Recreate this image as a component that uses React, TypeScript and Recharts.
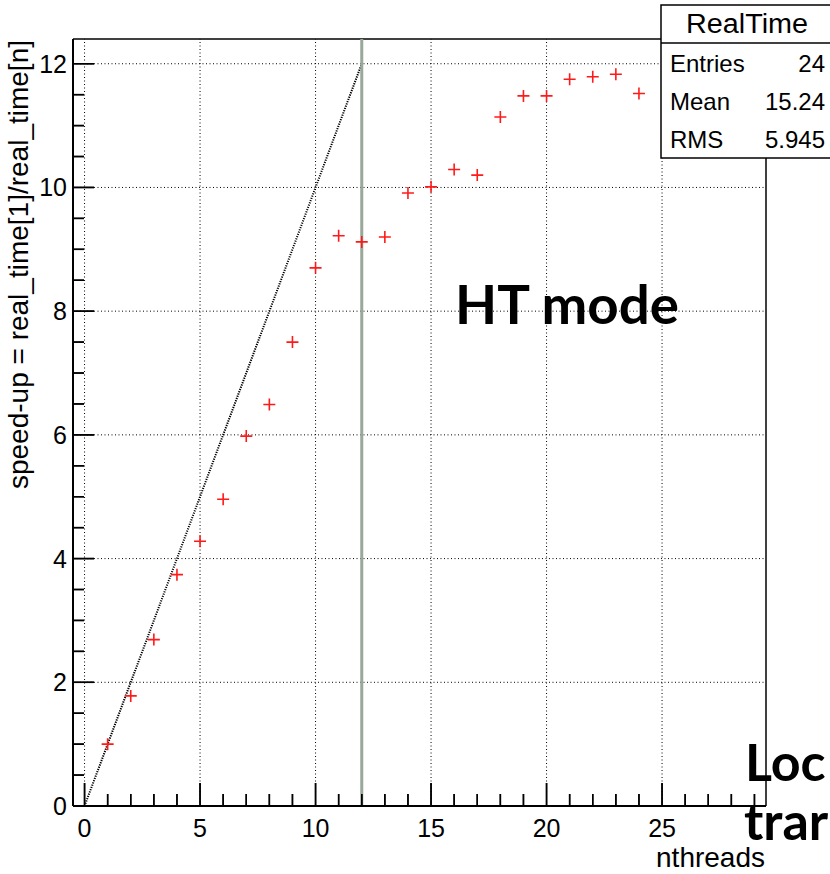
import React from 'react';
import { ComposedChart, XAxis, YAxis, Scatter, ReferenceLine } from 'recharts';

const threads = [1, 2, 3, 4, 5, 6, 7, 8, 9, 10, 11, 12, 13, 14, 15, 16, 17, 18, 19, 20, 21, 22, 23, 24];
const speedup = [1.0, 1.78, 2.69, 3.74, 4.28, 4.96, 5.98, 6.49, 7.5, 8.7, 9.22, 9.12, 9.2, 9.91, 10.01, 10.29, 10.2, 11.14, 11.48, 11.48, 11.75, 11.79, 11.83, 11.52];

const xTicks = [0, 1, 2, 3, 4, 5, 6, 7, 8, 9, 10, 11, 12, 13, 14, 15, 16, 17, 18, 19, 20, 21, 22, 23, 24, 25, 26, 27, 28, 29];
const xMajor = [0, 5, 10, 15, 20, 25];
const yTicks = [0, 0.5, 1, 1.5, 2, 2.5, 3, 3.5, 4, 4.5, 5, 5.5, 6, 6.5, 7, 7.5, 8, 8.5, 9, 9.5, 10, 10.5, 11, 11.5, 12];
const yMajor = [0, 2, 4, 6, 8, 10, 12];
const yGrid = [2, 4, 6, 8, 10, 12];

const xDomain: [number, number] = [-0.5, 29.5];
const yDomain: [number, number] = [0, 12.4];

const idealLine = [{ x: 0, y: 0 }, { x: 12, y: 12 }];
const htLimit = 12;

const statsTitle = 'RealTime';
const statsLabels = ['Entries', 'Mean', 'RMS'];
const statsValues = ['24', '15.24', '5.945'];

const data = threads.map((t, i) => ({ x: t, y: speedup[i] }));
const xTickMarks = xTicks.map((v) => ({ x: v, y: yDomain[0], major: xMajor.includes(v) }));
const yTickMarks = yTicks.map((v) => ({ x: xDomain[0], y: v, major: yMajor.includes(v) }));

const FONT = '"Liberation Sans", Arial, Helvetica, sans-serif';

const renderXTick = (props: any) => {
  const x = Number(props.x);
  const y = Number(props.y);
  const v = Number(props.payload?.value);
  const major = xMajor.includes(v);
  const len = major ? 23 : 12;
  return (
    <g>
      <line x1={x} y1={y} x2={x} y2={y - len} stroke="#000" strokeWidth={1.5} />
      {major ? (
        <text x={x} y={y + 31} textAnchor="middle" fontFamily={FONT} fontSize={25} fill="#000" stroke="none">
          {v}
        </text>
      ) : null}
    </g>
  );
};

const renderYTick = (props: any) => {
  const x = Number(props.x);
  const y = Number(props.y);
  const v = Number(props.payload?.value);
  const major = yMajor.includes(v);
  const len = major ? 21 : 11;
  return (
    <g>
      <line x1={x} y1={y} x2={x + len} y2={y} stroke="#000" strokeWidth={1.5} />
      {major ? (
        <text x={x - 6} y={y + 9} textAnchor="end" fontFamily={FONT} fontSize={25} fill="#000" stroke="none">
          {v}
        </text>
      ) : null}
    </g>
  );
};

const XTickMark = (props: any) => {
  const { cx, cy, payload } = props;
  if (cx == null || cy == null) return null;
  const len = payload?.major ? 23 : 12;
  return <path d={`M${cx},${cy}V${cy - len}`} stroke="#000" strokeWidth={1.5} fill="none" />;
};

const YTickMark = (props: any) => {
  const { cx, cy, payload } = props;
  if (cx == null || cy == null) return null;
  const len = payload?.major ? 21 : 11;
  return <path d={`M${cx},${cy}H${cx + len}`} stroke="#000" strokeWidth={1.5} fill="none" />;
};

const Cross = (props: any) => {
  const { cx, cy } = props;
  if (cx == null || cy == null) return null;
  return (
    <path
      d={`M${cx - 6},${cy}H${cx + 6}M${cx},${cy - 6}V${cy + 6}`}
      stroke="#ff1a1a"
      strokeWidth={1.6}
      fill="none"
    />
  );
};

export default function App() {
  return (
    <div style={{ position: 'absolute', left: 0, top: 0, width: 830, height: 874, overflow: 'hidden', background: '#fff' }}>
      <ComposedChart
        width={830}
        height={874}
        data={data}
        margin={{ top: 39, right: 64, bottom: 0, left: 0 }}
      >
        {xMajor.map((v) => (
          <ReferenceLine key={'gx' + v} x={v} stroke="#000" strokeWidth={1} strokeDasharray="1 2.5" />
        ))}
        {yGrid.map((v) => (
          <ReferenceLine key={'gy' + v} y={v} stroke="#000" strokeWidth={1} strokeDasharray="1 2.5" />
        ))}
        <ReferenceLine y={12.4} stroke="#000" strokeWidth={1.5} ifOverflow="visible" />
        <ReferenceLine x={29.5} stroke="#000" strokeWidth={1.5} ifOverflow="visible" />
        <ReferenceLine
          segment={idealLine}
          stroke="#000"
          strokeWidth={2}
          strokeDasharray="1.2 1.2"
          ifOverflow="visible"
        />
        <ReferenceLine x={htLimit} stroke="#98a99a" strokeWidth={3} />
        <XAxis
          type="number"
          dataKey="x"
          domain={xDomain}
          allowDataOverflow
          ticks={xTicks}
          interval={0}
          tickSize={0}
          tickMargin={0}
          tickLine={false}
          height={68}
          axisLine={{ stroke: '#000', strokeWidth: 2 }}
          tick={renderXTick}
        />
        <YAxis
          type="number"
          domain={yDomain}
          allowDataOverflow
          ticks={yTicks}
          interval={0}
          tickSize={0}
          tickMargin={0}
          tickLine={false}
          width={73}
          axisLine={{ stroke: '#000', strokeWidth: 2 }}
          tick={renderYTick}
        />
        <Scatter
          dataKey="y"
          data={xTickMarks}
          shape={(p: any) => <XTickMark {...p} />}
          isAnimationActive={false}
        />
        <Scatter
          dataKey="y"
          data={yTickMarks}
          shape={(p: any) => <YTickMark {...p} />}
          isAnimationActive={false}
        />
        <Scatter dataKey="y" data={data} shape={(p: any) => <Cross {...p} />} isAnimationActive={false} />
      </ComposedChart>
      <svg
        width={830}
        height={874}
        style={{ position: 'absolute', left: 0, top: 0, pointerEvents: 'none' }}
      >
        <text
          transform="translate(28,40) rotate(-90)"
          textAnchor="end"
          fontFamily={FONT}
          fontSize={28}
          fill="#000"
        >
          speed-up = real_time[1]/real_time[n]
        </text>
        <text x={765} y={867} textAnchor="end" fontFamily={FONT} fontSize={28} fill="#000">
          nthreads
        </text>
        <rect x={661} y={5} width={200} height={153} fill="#fff" stroke="#000" strokeWidth={1.5} />
        <line x1={661} y1={43} x2={830} y2={43} stroke="#000" strokeWidth={1.5} />
        <text x={747} y={33} textAnchor="middle" fontFamily={FONT} fontSize={27} fill="#000" textLength={122} lengthAdjust="spacingAndGlyphs">
          {statsTitle}
        </text>
        {statsLabels.map((l, i) => (
          <g key={l}>
            <text x={670} y={72 + i * 38} fontFamily={FONT} fontSize={24} fill="#000">
              {l}
            </text>
            <text x={825} y={72 + i * 38} textAnchor="end" fontFamily={FONT} fontSize={24} fill="#000">
              {statsValues[i]}
            </text>
          </g>
        ))}
        <text x={455} y={324} fontFamily="Lato, 'DejaVu Sans', sans-serif" fontWeight={700} fontSize={54} fill="#000" textLength={224} lengthAdjust="spacingAndGlyphs">
          HT mode
        </text>
        <text x={745} y={781} fontFamily="Lato, 'DejaVu Sans', sans-serif" fontWeight={700} fontSize={52} fill="#000">
          Loc
        </text>
        <text x={744} y={840} fontFamily="Lato, 'DejaVu Sans', sans-serif" fontWeight={700} fontSize={52} fill="#000">
          trar
        </text>
      </svg>
    </div>
  );
}
